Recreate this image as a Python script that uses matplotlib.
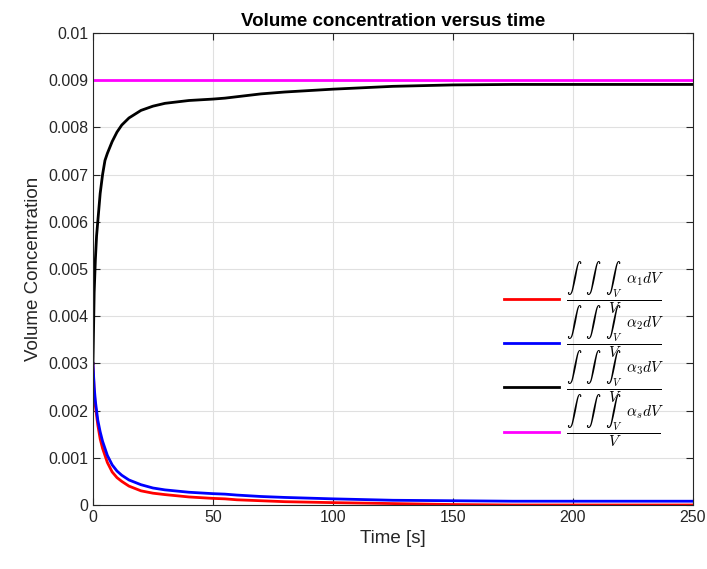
import numpy as np
import matplotlib
matplotlib.use('Agg')
import matplotlib.pyplot as plt

plt.rcParams['font.family'] = ['Liberation Sans', 'DejaVu Sans']
plt.rcParams['mathtext.fontset'] = 'cm'

# Data
time = [0, 0.5, 1, 1.5, 2, 3, 4, 5, 6, 8, 10, 12, 15, 20, 25, 30, 40, 50, 55,
        60, 70, 80, 100, 125, 150, 175, 200, 250]
alpha_1 = [0.0030, 0.0024, 0.0021, 0.0019, 0.0017, 0.0014, 0.0012, 0.00105,
           0.0009, 0.0007, 0.00058, 0.0005, 0.0004, 0.0003, 0.00025, 0.00022,
           0.00017, 0.00014, 0.00013, 0.00011, 0.00009, 0.00007, 0.00005,
           0.00003, 0.00001, 0.0, 0.0, 0.0]
alpha_2 = [0.0030, 0.0025, 0.0022, 0.0020, 0.0018, 0.00155, 0.00135, 0.0012,
           0.00105, 0.00085, 0.00072, 0.00063, 0.00053, 0.00043, 0.00036,
           0.00032, 0.00027, 0.00024, 0.00023, 0.00021, 0.00018, 0.00016,
           0.00013, 0.0001, 0.00009, 0.00008, 0.00008, 0.00008]
alpha_3 = [0.0030, 0.0045, 0.0052, 0.0057, 0.0060, 0.0066, 0.0070, 0.0073,
           0.00745, 0.0077, 0.0079, 0.00805, 0.0082, 0.00836, 0.00845, 0.00851,
           0.00857, 0.0086, 0.00862, 0.00865, 0.00871, 0.00875, 0.00881,
           0.00887, 0.0089, 0.00891, 0.00891, 0.00891]
alpha_s = [0.009] * len(time)

labels = [r'$\dfrac{\int\;\;\;\int\;\;\;\int_V\;\;\alpha_1 dV}{V}$',
          r'$\dfrac{\int\;\;\;\int\;\;\;\int_V\;\;\alpha_2 dV}{V}$',
          r'$\dfrac{\int\;\;\;\int\;\;\;\int_V\;\;\alpha_3 dV}{V}$',
          r'$\dfrac{\int\;\;\;\int\;\;\;\int_V\;\;\alpha_s dV}{V}$']
colors = ['#ff0000', '#0000ff', '#000000', '#ff00ff']

fig = plt.figure(figsize=(7.07, 5.69), dpi=100)
ax = fig.add_axes([0.1315, 0.1125, 0.8485, 0.8295])

for y, lab, col in zip([alpha_1, alpha_2, alpha_3, alpha_s], labels, colors):
    ax.plot(time, y, color=col, linewidth=2, label=lab)

ax.set_xlim(0, 250)
ax.set_ylim(0, 0.01)
ax.set_xticks(np.arange(0, 251, 50))
ax.set_yticks(np.arange(0, 0.0101, 0.001))
ax.set_yticklabels(['0'] + ['%g' % v for v in np.arange(0.001, 0.0101, 0.001)])
ax.grid(True, color='#e0e0e0', linewidth=0.8)
ax.set_axisbelow(True)
ax.tick_params(direction='in', top=True, right=True, labelsize=11.5,
               colors='#262626', length=5)
for s in ax.spines.values():
    s.set_color('#262626')

ax.set_xlabel('Time [s]', fontsize=13.5, color='#262626')
ax.set_ylabel('Volume Concentration', fontsize=13.5, color='#262626')
ax.set_title('Volume concentration versus time', fontsize=13.5,
             fontweight='bold', pad=5)

leg = ax.legend(loc='lower right', bbox_to_anchor=(0.975, 0.09), frameon=False,
                fontsize=11, handlelength=3.6, handletextpad=0.45,
                labelspacing=-0.8)

fig.savefig('out.png', dpi=100)
